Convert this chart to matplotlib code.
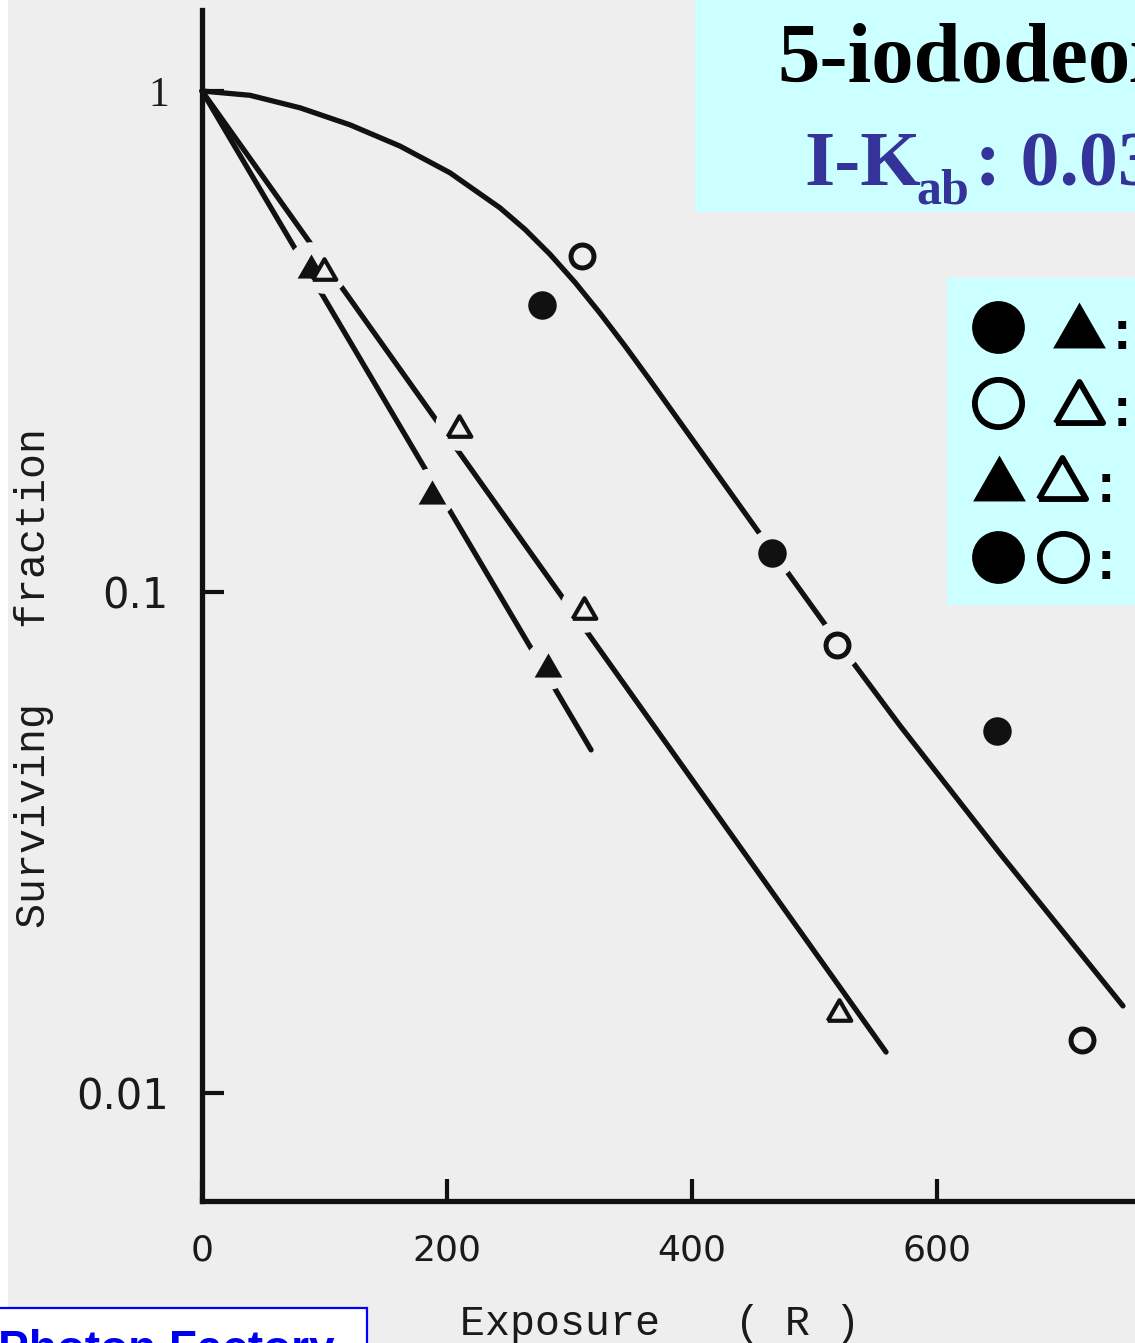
import numpy as np
import matplotlib.pyplot as plt
from matplotlib.patches import Rectangle
from matplotlib.lines import Line2D

# lecture des valeurs sur la figure scannee
curve_x = [0, 39.2, 80.0, 120.8, 161.6, 202.4, 243.3, 263.7, 284.1, 304.5, 324.9, 345.3,
           365.7, 406.5, 464.5, 517.6, 569.8, 651.4, 751.8]
curve_y = [1.0, 0.9804, 0.9257, 0.8560, 0.7764, 0.6867, 0.5844, 0.5293, 0.4721, 0.4150,
           0.3602, 0.3098, 0.2647, 0.1920, 0.1216, 0.0803, 0.0541, 0.03007, 0.01492]

ftri_line_x = [0, 317.6]
ftri_line_y = [1.0, 0.0484]
otri_line_x = [0, 558.4]
otri_line_y = [1.0, 0.01207]

fcirc_x = [277.6, 465.3, 649.0]
fcirc_y = [0.374, 0.1197, 0.0528]
ocirc_x = [310.2, 518.4, 718.4]
ocirc_y = [0.469, 0.0784, 0.01276]
ftri_x = [89.0, 187.8, 282.4]
ftri_y = [0.448, 0.158, 0.0715]
otri_x = [99.6, 209.8, 311.8, 520.0]
otri_y = [0.441, 0.2144, 0.0929, 0.01465]

# points qui coupent la ligne (trou autour du symbole)
fcirc_gap = [False, True, False]
ocirc_gap = [False, True, False]
ftri_gap = [True, True, True]
otri_gap = [True, True, True, False]

xticks = [0, 200, 400, 600]
yticks = [0.01, 0.1, 1]
ytick_labels = ['0.01', '0.1', '1']

W, H = 1135, 1343
paper = '#eeeeee'
ink = '#111111'
tri = [(-1, -0.87), (1, -0.87), (0, 0.87), (-1, -0.87)]


def fx(px):
    return px / W


def fy(py):
    return 1 - py / H


fig = plt.figure(figsize=(W / 100, H / 100), dpi=100)
fig.patch.set_facecolor('white')
ax = fig.add_axes([fx(8), 0, 1 - fx(8), 1])
ax.set_facecolor(paper)
ax.set_yscale('log')
ax.set_xlim((8 - 202) / 1.225, (W - 202) / 1.225)
ax.set_ylim(10 ** (-(H - 91) / 501), 10 ** (91 / 501))

for s in ['top', 'right']:
    ax.spines[s].set_visible(False)
ax.spines['left'].set_position(('data', 0))
ax.spines['bottom'].set_position(('data', 0.0061))
ax.spines['left'].set_bounds(0.0061, 1.45)
ax.spines['bottom'].set_bounds(0, 800)
for s in ['left', 'bottom']:
    ax.spines[s].set_linewidth(3.8)
    ax.spines[s].set_color(ink)

ax.set_xticks(xticks)
ax.set_xticklabels([str(v) for v in xticks])
ax.set_yticks(yticks)
ax.set_yticklabels(ytick_labels)
ax.minorticks_off()
ax.tick_params(axis='both', direction='in', length=16, width=3, color=ink,
               labelsize=26, labelcolor='#1a1a1a')
ax.tick_params(axis='y', pad=24, labelsize=30)
ax.tick_params(axis='x', pad=24)
for lab in ax.get_xticklabels() + ax.get_yticklabels():
    lab.set_fontfamily('DejaVu Sans')
ax.get_yticklabels()[-1].set_fontfamily('Liberation Serif')
ax.get_yticklabels()[-1].set_fontsize(30)

# courbes
ax.plot(curve_x, curve_y, color=ink, lw=3.8, zorder=2, solid_capstyle='round',
        solid_joinstyle='round')
ax.plot(ftri_line_x, ftri_line_y, color=ink, lw=3.8, zorder=2, solid_capstyle='round')
ax.plot(otri_line_x, otri_line_y, color=ink, lw=3.8, zorder=2, solid_capstyle='round')

# trous autour des symboles
for xs, ys, g in [(fcirc_x, fcirc_y, fcirc_gap), (ocirc_x, ocirc_y, ocirc_gap),
                  (ftri_x, ftri_y, ftri_gap), (otri_x, otri_y, otri_gap)]:
    m = np.array(g)
    ax.plot(np.array(xs)[m], np.array(ys)[m], 'o', ms=35, color=paper, mec='none', zorder=3)

ax.plot(fcirc_x, fcirc_y, 'o', ms=20.5, color=ink, mec='none', zorder=4)
ax.plot(ocirc_x, ocirc_y, 'o', ms=16.5, mfc=paper, mec=ink, mew=3.6, zorder=4)
ax.plot(ftri_x, ftri_y, marker=tri, ls='none', ms=20, color=ink, mec='none', zorder=4)
ax.plot(otri_x, otri_y, marker=tri, ls='none', ms=17, mfc=paper, mec=ink, mew=3, zorder=4)

# titres des axes
fig.text(fx(34), fy(678), 'Surviving   fraction', rotation=90, ha='center', va='center',
         family='Liberation Mono', fontsize=30, color='#1a1a1a')
fig.text(fx(660), fy(1335), 'Exposure   ( R )', ha='center', va='baseline',
         family='Liberation Mono', fontsize=30, color='#1a1a1a')

# encadre du titre
fig.add_artist(Rectangle((fx(695), fy(212)), 1 - fx(695), fy(0) - fy(212),
                         transform=fig.transFigure, facecolor='#ccffff', edgecolor='none'))
fig.text(fx(777), fy(82), '5-iododeoxyuridine', ha='left', va='baseline',
         family='Liberation Serif', weight='bold', fontsize=61, color='black')
blue = '#333399'
fig.text(fx(804), fy(185), 'I-K', ha='left', va='baseline',
         family='Liberation Serif', weight='bold', fontsize=56, color=blue)
fig.text(fx(916), fy(203), 'ab', ha='left', va='baseline',
         family='Liberation Serif', weight='bold', fontsize=36, color=blue)
fig.text(fx(975), fy(185), ': 0.0374 nm', ha='left', va='baseline',
         family='Liberation Serif', weight='bold', fontsize=56, color=blue)

# legende
fig.add_artist(Rectangle((fx(947), fy(605)), 1 - fx(947), fy(278) - fy(605),
                         transform=fig.transFigure, facecolor='#ccffff', edgecolor='none'))
leg = [
    [('o', 'full', 998, 327), ('t', 'full', 1079, 325)],
    [('o', 'open', 998, 403), ('t', 'open', 1079, 402)],
    [('t', 'full', 999, 478), ('t', 'open', 1062, 478)],
    [('o', 'full', 998, 557), ('o', 'open', 1063, 557)],
]
colons = [(1122, 349), (1122, 426), (1106, 502), (1106, 579)]
for row, (cx, cy) in zip(leg, colons):
    for shape, fill, px, py in row:
        mk = 'o' if shape == 'o' else tri
        if fill == 'full':
            art = Line2D([fx(px)], [fy(py)], marker=mk, ms=38, color='black', mec='none',
                         ls='none', transform=fig.transFigure)
        else:
            art = Line2D([fx(px)], [fy(py)], marker=mk, ms=34, mfc='#ccffff', mec='black',
                         mew=4.2, ls='none', transform=fig.transFigure)
        fig.add_artist(art)
    fig.text(fx(cx), fy(cy), ':', ha='center', va='baseline',
             family='Liberation Sans', weight='bold', fontsize=40, color='black')

# cartouche Photon Factory
fig.add_artist(Rectangle((fx(-5), fy(1360)), fx(372), fy(1308) - fy(1360),
                         transform=fig.transFigure, facecolor='white',
                         edgecolor='#0000ff', lw=1.6))
fig.text(fx(-2), fy(1363), 'Photon Factory', ha='left', va='baseline',
         family='Liberation Sans', weight='bold', fontsize=33, color='#0000ee')

fig.savefig('out.png', dpi=100, facecolor=fig.get_facecolor())
